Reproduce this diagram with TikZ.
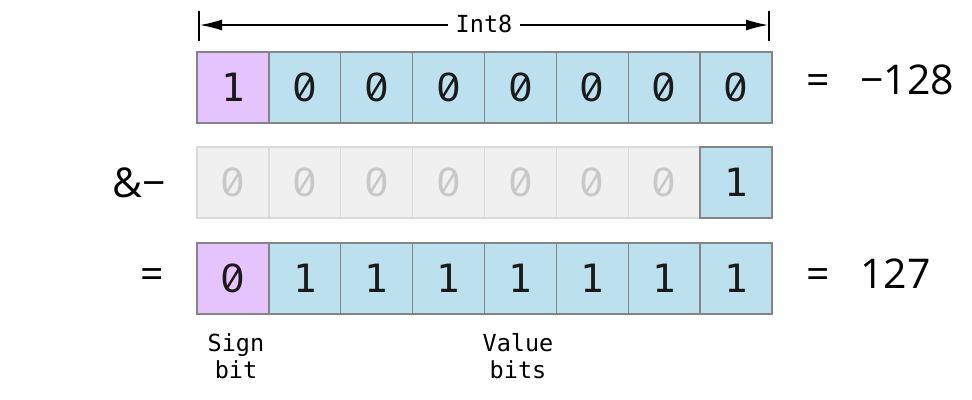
\documentclass[tikz,border=0pt]{standalone}
\usepackage{fontspec}
\setmainfont{Open Sans}
\newfontfamily\monof{DejaVu Sans Mono}
\newfontfamily\zerof{Liberation Sans}
\usetikzlibrary{arrows.meta}
\definecolor{signc}{HTML}{E5C3FC}
\definecolor{valc}{HTML}{BCE0EE}
\definecolor{cellborder}{HTML}{858585}
\definecolor{ghostfill}{HTML}{F0F0F0}
\definecolor{ghostborder}{HTML}{DADADA}
\definecolor{ghosttext}{HTML}{C8C8C8}
\definecolor{ink}{HTML}{1A1A1A}
\tikzset{
  cell/.style={draw=cellborder, line width=1.3pt, minimum width=71.875pt, minimum height=71pt,
    inner sep=0pt, outer sep=0pt, text=ink, font=\monof\fontsize{39}{44}\selectfont, anchor=north west},
  zerodig/.style={font=\zerof\fontsize{41}{44}\selectfont,
    path picture={\draw[line width=2.4pt, #1]
      ([shift={(-6.5,10.5)}]path picture bounding box.center) --
      ([shift={(6.5,-10.5)}]path picture bounding box.center);}},
  signcell/.style={cell, fill=signc},
  valcell/.style={cell, fill=valc},
  ghostcell/.style={cell, draw=ghostborder, fill=ghostfill, text=ghosttext},
  sidelabel/.style={font=\fontsize{41}{48}\selectfont, text=black, inner sep=0pt, anchor=west},
  smalllabel/.style={font=\monof\fontsize{23.5}{27}\selectfont, align=center, inner sep=0pt, text=black},
}
\begin{document}
\begin{tikzpicture}[x=1pt,y=-1pt]
\useasboundingbox (0,0) rectangle (972,399);
% Row 1
\node[signcell] (a1) at (197,52) {1};
\foreach \i in {2,...,8}{
  \node[valcell, zerodig=ink] (a\i) at ({197+71.875*(\i-1)},52) {0};
}
% Row 2
\foreach \i in {1,...,7}{
  \node[ghostcell, zerodig=ghosttext] (b\i) at ({197+71.875*(\i-1)},147) {0};
}
\node[valcell] (b8) at ({197+71.875*7},147) {1};
% Row 3
\node[signcell, zerodig=ink] (c1) at (197,243) {0};
\foreach \i in {2,...,8}{
  \node[valcell] (c\i) at ({197+71.875*(\i-1)},243) {1};
}
\draw[cellborder, line width=1.3pt] (b8.north west) rectangle (b8.south east);
% side labels
\node[sidelabel] (eq1) at (806,80) {=\hspace{0.75em}−128};
\node[sidelabel] (and) at (112,183) {\&−};
\node[sidelabel] (eq3) at (140,279) {=};
\node[sidelabel] (eq2) at (806,274) {=\hspace{0.75em}127};
% Int8 dimension
\coordinate (tl) at (199,11);
\coordinate (bl) at (199,41);
\coordinate (tr) at (769,11);
\coordinate (br) at (769,41);
\draw[line width=1.6pt] (tl) -- (bl);
\draw[line width=1.6pt] (tr) -- (br);
\coordinate (al) at (200,25);
\coordinate (ar) at (768,25);
\draw[line width=1.3pt, {Latex[length=22pt,width=11pt]}-{Latex[length=22pt,width=11pt]}] (al) -- (ar);
\node[smalllabel, fill=white, inner xsep=8pt, inner ysep=4pt] (int8) at (484,24) {Int8};
% bottom labels
\node[smalllabel] (sign) at (236,356) {Sign\\bit};
\node[smalllabel] (value) at (518,356) {Value\\bits};
\end{tikzpicture}
\end{document}
